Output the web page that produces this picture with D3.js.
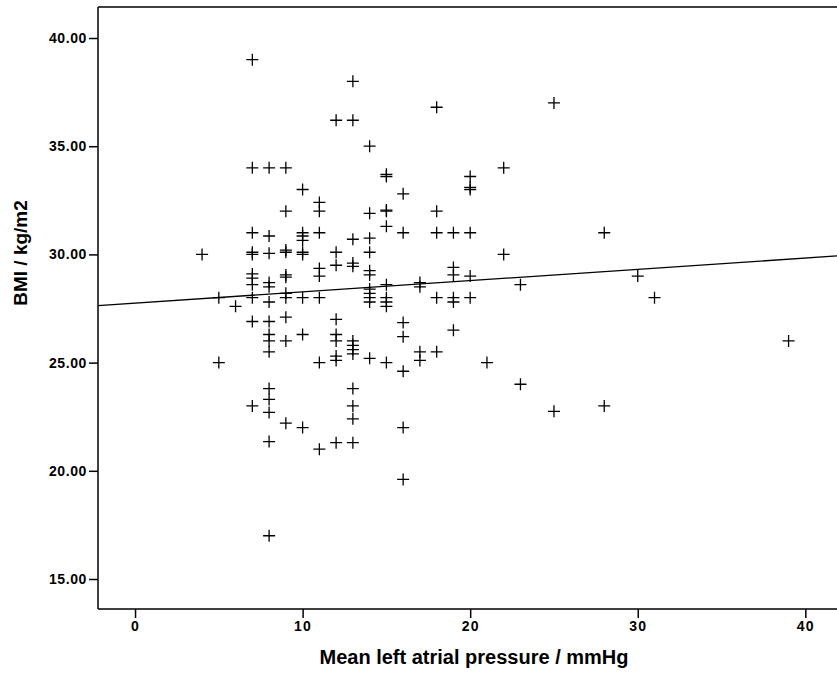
<!DOCTYPE html>
<html>
<head>
<meta charset="utf-8">
<script src="https://cdn.jsdelivr.net/npm/d3@7"></script>
<style>
  body { margin: 0; background: #fff; }
  svg { display: block; font-family: "Liberation Sans", Arial, sans-serif; }
</style>
</head>
<body>
<div id="chart"></div>
<script>
// mean left atrial pressure (mmHg) and BMI, paired by index
var pressure = [
  4,
  5, 5,
  6,
  7, 7, 7, 7, 7, 7, 7, 7, 7, 7, 7,
  8, 8, 8, 8, 8, 8, 8, 8, 8, 8, 8, 8, 8, 8, 8,
  9, 9, 9, 9, 9, 9, 9, 9, 9, 9, 9,
  10, 10, 10, 10, 10, 10, 10, 10, 10,
  11, 11, 11, 11, 11, 11, 11, 11,
  12, 12, 12, 12, 12, 12, 12, 12, 12,
  13, 13, 13, 13, 13, 13, 13, 13, 13, 13, 13, 13, 13,
  14, 14, 14, 14, 14, 14, 14, 14, 14, 14, 14,
  15, 15, 15, 15, 15, 15, 15, 15, 15, 15,
  16, 16, 16, 16, 16, 16, 16,
  17, 17, 17, 17,
  18, 18, 18, 18, 18,
  19, 19, 19, 19, 19, 19,
  20, 20, 20, 20, 20, 20,
  21,
  22, 22,
  23, 23,
  25, 25,
  28, 28,
  30,
  31,
  39
];
var bmi = [
  30.0,
  28.0, 25.0,
  27.6,
  39.0, 34.0, 31.0, 30.0, 30.1, 29.1, 28.9, 28.6, 28.0, 26.9, 23.0,
  34.0, 30.85, 30.05, 28.7, 28.5, 27.8, 26.9, 26.3, 26.0, 25.5, 23.8, 23.3, 22.7, 21.35, 17.0,
  34.0, 32.0, 30.2, 30.1, 29.05, 28.95, 28.2, 28.0, 27.1, 26.0, 22.2,
  33.0, 31.0, 30.85, 30.65, 30.1, 30.0, 28.0, 26.3, 22.0,
  32.4, 32.0, 31.0, 29.35, 29.0, 28.0, 25.0, 21.0,
  36.2, 30.1, 29.5, 27.0, 26.3, 26.0, 25.3, 25.1, 21.3,
  38.0, 36.2, 30.7, 29.6, 29.45, 26.0, 25.8, 25.6, 25.4, 23.8, 23.0, 22.4, 21.3,
  35.0, 31.9, 30.75, 30.1, 29.25, 29.05, 28.4, 28.2, 28.0, 27.8, 25.2,
  33.7, 33.6, 32.0, 32.05, 31.3, 28.6, 28.0, 27.8, 27.6, 25.0,
  32.8, 31.0, 26.85, 26.2, 24.6, 22.0, 19.6,
  28.7, 28.5, 25.5, 25.1,
  36.8, 32.0, 31.0, 28.0, 25.5,
  31.0, 29.4, 29.05, 28.0, 27.8, 26.5,
  33.6, 33.1, 33.0, 31.0, 29.0, 28.0,
  25.0,
  34.0, 30.0,
  28.6, 24.0,
  37.0, 22.75,
  31.0, 23.0,
  29.0,
  28.0,
  26.0
];

var xTicks = [0, 10, 20, 30, 40];
var yTicks = [15, 20, 25, 30, 35, 40];

// fit line
var fitIntercept = 27.75;
var fitSlope = 0.052;

var width = 837,
  height = 675;

var margin = { left: 98, right: 837, top: 7, bottom: 609 };

var svg = d3.select("#chart")
  .append("svg")
  .attr("width", width)
  .attr("height", height);

var x = d3.scaleLinear().domain([-2.21, 41.89]).range([margin.left, margin.right]);
var y = d3.scaleLinear().domain([13.614, 41.433]).range([margin.bottom, margin.top]);

// frame top line
svg.append("line")
  .attr("x1", margin.left).attr("x2", margin.right)
  .attr("y1", margin.top).attr("y2", margin.top)
  .attr("stroke", "#000").attr("stroke-width", 1.5);

var yAxis = svg.append("g")
  .attr("transform", "translate(" + margin.left + ",0)")
  .call(d3.axisLeft(y).tickValues(yTicks).tickSize(9).tickPadding(2).tickFormat(d3.format(".2f")));

var xAxis = svg.append("g")
  .attr("transform", "translate(0," + margin.bottom + ")")
  .call(d3.axisBottom(x).tickValues(xTicks).tickSize(9).tickPadding(3).tickFormat(d3.format("d")));

[yAxis, xAxis].forEach(function (ax) {
  ax.attr("font-size", 14).attr("font-family", "'Liberation Sans', Arial, sans-serif");
  ax.select(".domain").attr("stroke", "#000").attr("stroke-width", 1.5);
  ax.selectAll(".tick line").attr("stroke", "#000").attr("stroke-width", 1.5);
  ax.selectAll(".tick text")
    .attr("fill", "#000")
    .style("font-weight", "bold")
    .style("letter-spacing", "1.2px");
});
yAxis.selectAll(".tick text").style("letter-spacing", "0.6px");
xAxis.select(".domain").attr("d", "M" + margin.left + ",0H" + margin.right);
yAxis.select(".domain").attr("d", "M0," + margin.top + "V" + margin.bottom);

svg.append("defs").append("clipPath").attr("id", "plot")
  .append("rect")
  .attr("x", margin.left).attr("y", margin.top)
  .attr("width", margin.right - margin.left).attr("height", margin.bottom - margin.top);

var plot = svg.append("g").attr("clip-path", "url(#plot)");

// regression line
var xd = x.domain();
plot.append("line")
  .attr("x1", x(xd[0])).attr("y1", y(fitIntercept + fitSlope * xd[0]))
  .attr("x2", x(xd[1])).attr("y2", y(fitIntercept + fitSlope * xd[1]))
  .attr("stroke", "#000")
  .attr("stroke-width", 1.3);

// plus markers
var s = 6;
plot.selectAll("path.pt")
  .data(d3.range(pressure.length))
  .enter().append("path")
  .attr("class", "pt")
  .attr("d", function (i) {
    var px = x(pressure[i]), py = y(bmi[i]);
    return "M" + (px - s) + "," + py + "H" + (px + s) + "M" + px + "," + (py - s) + "V" + (py + s);
  })
  .attr("stroke", "#000")
  .attr("stroke-width", 1.3)
  .attr("fill", "none");

svg.append("text")
  .attr("x", 474)
  .attr("y", 664)
  .attr("text-anchor", "middle")
  .style("font-size", "20px")
  .style("font-weight", "bold")
  .text("Mean left atrial pressure / mmHg");

svg.append("text")
  .attr("transform", "translate(27,253) rotate(-90)")
  .attr("text-anchor", "middle")
  .style("font-size", "19px")
  .style("font-weight", "bold")
  .text("BMI / kg/m2");
</script>
</body>
</html>
